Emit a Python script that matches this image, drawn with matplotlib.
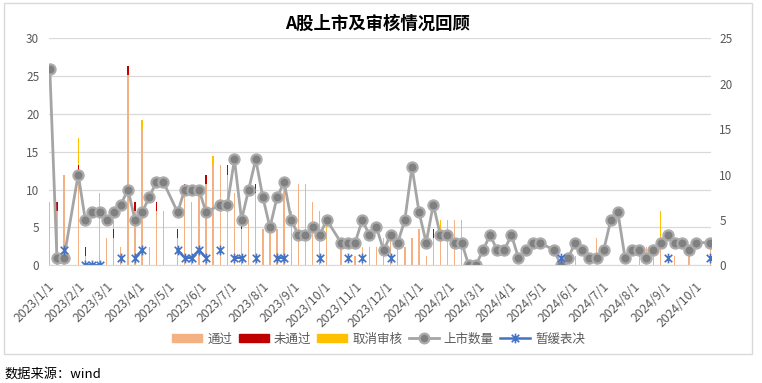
import numpy as np
import pandas as pd
import matplotlib
matplotlib.use("Agg")
import matplotlib.pyplot as plt
from matplotlib.patches import Patch, Rectangle
from matplotlib.lines import Line2D
from matplotlib.path import Path
import matplotlib.dates as mdates
from matplotlib.ticker import FuncFormatter

plt.rcParams['font.family'] = ['Noto Sans CJK SC', 'DejaVu Sans']

# 周度数据（每周五），None 表示该周无数据（节假日）
start = "2022-12-30"
n_weeks = 94
skip_weeks = [3, 17, 40, 70, 92]

# 通过 / 未通过 / 取消审核（右轴）
passed = [7, 6, 10, None, 10, 1, 0, 8, 3, 3,
          2, 21, 6, 15, 2, 6, 6, None, 3, 8,
          7, 8, 9, 11, 11, 10, 8, 4, 5, 8,
          4, 4, 4, 9, 6, 9, 9, 7, 6, 4,
          None, 2, 0, 1, 2, 2, 2, 3, 3, 2,
          2, 3, 4, 1, 3, 4, 5, 5, 4, 0,
          0, 0, 0, 0, 0, 0, 0, 0, 0, 0,
          None, 0, 0, 0, 1, 0, 1, 3, 0, 0,
          0, 0, 0, 1, 2, 1, 3, 0, 1, 0,
          1, 0, None, 2]
failed = [0, 1, 0, None, 1, 1, 0, 0, 0, 1,
          0, 1, 1, 0, 0, 1, 0, None, 1, 1,
          0, 0, 1, 0, 0, 1, 0, 1, 0, 1,
          0, 0, 0, 0, 0, 0, 0, 0, 0, 0,
          None, 0, 0, 0, 0, 0, 0, 0, 0, 0,
          0, 0, 0, 0, 1, 0, 0, 0, 0, 0,
          0, 0, 0, 0, 0, 0, 0, 0, 0, 0,
          None, 0, 0, 0, 0, 0, 0, 0, 0, 0,
          0, 0, 0, 0, 0, 0, 0, 0, 0, 0,
          0, 0, None, 0]
cancelled = [0, 0, 0, None, 3, 0, 0, 0, 0, 1,
             0, 0, 0, 1, 0, 0, 0, None, 0, 0,
             0, 0, 0, 1, 0, 0, 0, 0, 0, 0,
             0, 0, 0, 0, 0, 0, 0, 0, 0, 1,
             None, 0, 0, 0, 0, 0, 0, 0, 0, 0,
             0, 0, 0, 0, 0, 1, 0, 0, 1, 0,
             0, 0, 0, 0, 0, 0, 0, 0, 0, 0,
             None, 0, 0, 0, 0, 0, 0, 0, 0, 0,
             0, 0, 0, 0, 0, 0, 3, 0, 0, 0,
             0, 0, None, 0]

# 上市数量 / 暂缓表决（左轴）
listed = [26, 1, 1, None, 12, 6, 7, 7, 6, 7,
          8, 10, 6, 7, 9, 11, 11, None, 7, 10,
          10, 10, 7, None, 8, 8, 14, 6, 10, 14,
          9, 5, 9, 11, 6, 4, 4, 5, 4, 6,
          None, 3, 3, 3, 6, 4, 5, 2, 4, 3,
          6, 13, 7, 3, 8, 4, 4, 3, 3, 0,
          0, 2, 4, 2, 2, 4, 1, 2, 3, 3,
          None, 2, 0, 1, 3, 2, 1, 1, 2, 6,
          7, 1, 2, 2, 1, 2, 3, 4, 3, 3,
          2, 3, None, 3]
postponed = [None, None, 2, None, None, 0, 0, 0, None, None,
             1, None, 1, 2, None, None, None, None, 2, 1,
             1, 2, 1, None, 2, None, 1, 1, None, 1,
             None, None, 1, 1, None, None, None, None, 1, None,
             None, None, 1, None, 1, None, None, None, 1, None,
             None, None, None, None, None, None, None, None, None, None,
             None, None, None, None, None, None, None, None, None, None,
             None, None, 1, None, None, None, None, None, None, None,
             None, None, None, None, None, None, None, 1, None, None,
             None, None, None, 1]

dates = pd.date_range(start, periods=n_weeks, freq="7D")
df = pd.DataFrame({"通过": passed, "未通过": failed, "取消审核": cancelled,
                   "上市数量": listed, "暂缓表决": postponed}, index=dates,
                  dtype=float)
df = df.drop(dates[skip_weeks])

fig = plt.figure(figsize=(7.62, 3.83), dpi=100)
ax = fig.add_axes([0.0643, 0.3073, 0.8688, 0.5927])   # 左轴：折线
ax2 = ax.twinx()                                        # 右轴：柱子
ax.set_zorder(2)
ax2.set_zorder(1)
ax.patch.set_visible(False)

gray_txt = '#595959'
grid_c = '#D9D9D9'

# 网格线（按左轴刻度）
left_ticks = np.arange(0, 31, 5)
for v in left_ticks:
    ax2.axhline(v * 25 / 30, color=grid_c, lw=0.9, zorder=0)

# 堆叠柱
w = 1.3
p = df["通过"].fillna(0).values
f = df["未通过"].fillna(0).values
c = df["取消审核"].fillna(0).values
ax2.bar(df.index, p, width=w, color='#F4B183', zorder=2)
ax2.bar(df.index, f, width=w, bottom=p, color='#C00000', zorder=2)
ax2.bar(df.index, c, width=w, bottom=p + f, color='#FFC000', zorder=2)

# 上市数量
s = df["上市数量"].dropna()
ax.plot(s.index, s.values, color='#A5A5A5', lw=2, marker='o', markersize=7.3,
        markerfacecolor='#808080', markeredgecolor='#ABABAB', markeredgewidth=1.6)

# 暂缓表决（星形标记，空值断开）
star = Path([(-1, -1), (1, 1), (-1, 1), (1, -1), (0, -1.3), (0, 1.3)],
            [Path.MOVETO, Path.LINETO, Path.MOVETO, Path.LINETO, Path.MOVETO, Path.LINETO])
ax.plot(df.index, df["暂缓表决"].values, color='#4472C4', lw=1.8,
        marker=star, markersize=7, markeredgewidth=1.2, markeredgecolor='#4472C4')

ax.set_ylim(0, 30)
ax2.set_ylim(0, 25)
ax.set_yticks(left_ticks)
ax2.set_yticks(np.arange(0, 26, 5))
ax.set_xlim(df.index[0] - pd.Timedelta(days=0.8), df.index[-1] + pd.Timedelta(days=0.8))

ax.xaxis.set_major_locator(mdates.MonthLocator())
ax.xaxis.set_major_formatter(FuncFormatter(
    lambda x, pos: f"{mdates.num2date(x).year}/{mdates.num2date(x).month}/{mdates.num2date(x).day}"))

for a in (ax, ax2):
    for sp in a.spines.values():
        sp.set_visible(False)
    a.tick_params(axis='both', length=0, colors=gray_txt, labelsize=8.5)
ax.spines['bottom'].set_visible(True)
ax.spines['bottom'].set_color(grid_c)
ax.tick_params(axis='y', pad=7)
ax2.tick_params(axis='y', pad=6)
ax.tick_params(axis='x', pad=14, labelsize=8.8)
for lab in ax.get_xticklabels():
    lab.set_rotation(45)
    lab.set_ha('right')
    lab.set_va('center')
    lab.set_rotation_mode('anchor')

# 标题、图例、边框、来源
fig.text(0.4954, 1 - 24 / 383, "A股上市及审核情况回顾", ha='center', va='center',
         fontsize=12.5, fontweight='bold', color='black')

handles = [Patch(color='#F4B183'), Patch(color='#C00000'), Patch(color='#FFC000'),
           Line2D([], [], color='#A5A5A5', lw=2, marker='o', markersize=7,
                  markerfacecolor='#808080', markeredgecolor='#ABABAB', markeredgewidth=1.6),
           Line2D([], [], color='#4472C4', lw=1.8, marker=star, markersize=7,
                  markeredgewidth=1.2, markeredgecolor='#4472C4')]
labels = ["通过", "未通过", "取消审核", "上市数量", "暂缓表决"]
leg = fig.legend(handles, labels, loc='center', bbox_to_anchor=(0.497, 1 - 339 / 383),
                 ncol=5, frameon=False, fontsize=9, handlelength=2.4, handleheight=0.6,
                 columnspacing=0.5, handletextpad=0.4)
for t in leg.get_texts():
    t.set_color(gray_txt)

fig.patches.append(Rectangle((4 / 762, 1 - 354 / 383), 748 / 762, 351 / 383,
                             transform=fig.transFigure, fill=False,
                             edgecolor=grid_c, lw=1))
fig.text(4 / 762, 1 - 374 / 383, "数据来源：wind", ha='left', va='center',
         fontsize=9.5, color='black')

fig.savefig("out.png", dpi=100)
